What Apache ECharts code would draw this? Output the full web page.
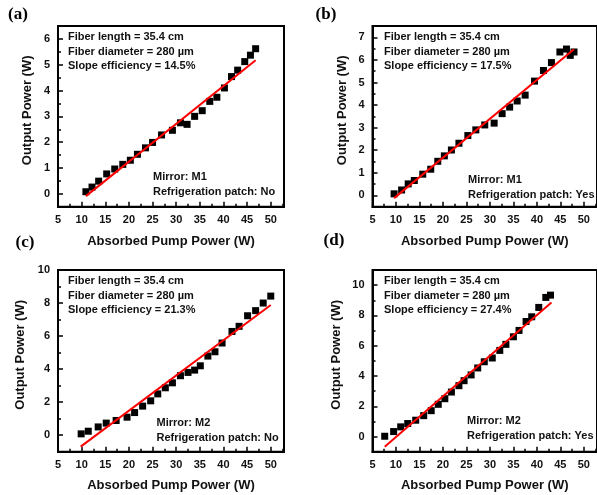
<!DOCTYPE html>
<html><head><meta charset="utf-8">
<script src="https://cdn.jsdelivr.net/npm/echarts@6/dist/echarts.min.js"></script>
<style>html,body{margin:0;padding:0;background:#fff}#c{width:597px;height:495px}</style>
</head><body><div id="c"></div>
<script>
// ---- data ----
const xTickValues = [5, 10, 15, 20, 25, 30, 35, 40, 45, 50];
const xMinorValues = [7.5, 12.5, 17.5, 22.5, 27.5, 32.5, 37.5, 42.5, 47.5, 52.5];

const aX = [10.9,12.2,13.6,15.3,17.0,18.7,20.3,21.8,23.5,25.0,26.9,29.2,30.9,32.3,33.9,35.5,37.1,38.6,40.2,41.7,43.0,44.5,45.7,46.8];
const aY = [0.08,0.26,0.49,0.77,0.96,1.14,1.30,1.53,1.78,1.99,2.28,2.46,2.75,2.69,3.00,3.22,3.58,3.74,4.10,4.54,4.79,5.12,5.37,5.62];
const aFitX = [10.9, 46.8];
const aFitY = [-0.09, 5.17];
const aYTicks = [0,1,2,3,4,5,6];
const aYMinor = [0.5,1.5,2.5,3.5,4.5,5.5];

const bX = [9.6,11.2,12.6,13.9,15.7,17.4,18.9,20.3,21.8,23.4,25.3,27.0,28.9,30.9,32.6,34.2,35.8,37.5,39.5,41.4,43.1,44.9,46.3,47.1,47.9];
const bY = [0.07,0.24,0.51,0.66,0.94,1.16,1.51,1.75,2.01,2.31,2.65,2.90,3.12,3.20,3.62,3.91,4.18,4.44,5.06,5.53,5.88,6.35,6.48,6.20,6.35];
const bFitX = [9.6, 47.9];
const bFitY = [-0.12, 6.47];
const bYTicks = [0,1,2,3,4,5,6,7];
const bYMinor = [0.5,1.5,2.5,3.5,4.5,5.5,6.5];

const cX = [9.9,11.4,13.5,15.2,17.3,19.6,21.2,22.9,24.6,26.1,27.7,29.2,30.9,32.5,33.9,35.1,36.7,38.2,39.7,41.8,43.3,45.1,46.8,48.4,50.0];
const cY = [0.08,0.24,0.50,0.73,0.89,1.09,1.37,1.76,2.08,2.50,2.87,3.17,3.60,3.80,3.94,4.20,4.79,5.05,5.58,6.28,6.59,7.23,7.54,8.00,8.42];
const cFitX = [9.8, 50.0];
const cFitY = [-0.69, 7.88];
const cYTicks = [0,2,4,6,8,10];
const cYMinor = [1,3,5,7,9];

const dX = [7.6,9.5,11.0,12.5,14.2,15.9,17.5,19.0,20.4,21.8,23.4,24.5,26.0,27.4,28.8,30.5,32.1,33.4,35.0,36.2,37.7,38.9,40.4,41.9,42.9];
const dY = [0.02,0.33,0.64,0.86,1.08,1.38,1.71,2.13,2.50,2.94,3.36,3.69,4.07,4.53,4.94,5.19,5.69,6.09,6.59,7.01,7.60,7.91,8.53,9.19,9.34];
const dFitX = [7.6, 43.1];
const dFitY = [-0.68, 8.85];
const dYTicks = [0,2,4,6,8,10];
const dYMinor = [1,3,5,7,9];

const panelLabels = ['(a)', '(b)', '(c)', '(d)'];
const fiberLines = ['Fiber length = 35.4 cm', 'Fiber diameter = 280 \u00b5m'];
const slopeTexts = ['Slope efficiency = 14.5%', 'Slope efficiency = 17.5%', 'Slope efficiency = 21.3%', 'Slope efficiency = 27.4%'];
const mirrorTexts = ['Mirror: M1', 'Mirror: M1', 'Mirror: M2', 'Mirror: M2'];
const patchTexts = ['Refrigeration patch: No', 'Refrigeration patch: Yes', 'Refrigeration patch: No', 'Refrigeration patch: Yes'];
const xTitle = 'Absorbed Pump Power (W)';
const yTitle = 'Output Power (W)';

// ---- layout ----
const SANS = '"Liberation Sans", Arial, sans-serif';
const SERIF = '"Liberation Serif", "Times New Roman", serif';
const TXT = '#111';
const panels = [
  {X: aX, Y: aY, fx: aFitX, fy: aFitY, yt: aYTicks, ym: aYMinor, ymin: -0.5, ymax: 6.5,
   grid: {left: 58, top: 26, width: 226, height: 180.7}, yGap: 24.5, xGap: 28,
   lab: [18, 15], info: [68, 37], mir: [153, 177]},
  {X: bX, Y: bY, fx: bFitX, fy: bFitY, yt: bYTicks, ym: bYMinor, ymin: -0.5, ymax: 7.5,
   grid: {left: 372.5, top: 26, width: 226, height: 180.7}, yGap: 23.5, xGap: 28,
   lab: [326, 15], info: [384, 37], mir: [468, 180]},
  {X: cX, Y: cY, fx: cFitX, fy: cFitY, yt: cYTicks, ym: cYMinor, ymin: -1, ymax: 10,
   grid: {left: 58, top: 270, width: 226, height: 181.7}, yGap: 31, xGap: 27,
   lab: [25, 243], info: [68, 281], mir: [156.5, 423]},
  {X: dX, Y: dY, fx: dFitX, fy: dFitY, yt: dYTicks, ym: dYMinor, ymin: -1, ymax: 11,
   grid: {left: 372.5, top: 270, width: 226, height: 181.7}, yGap: 29.5, xGap: 27,
   lab: [334, 241], info: [384, 281], mir: [467, 421]}
];
const XMIN = 5, XMAX = 52.8;

const grids = [], xAxes = [], yAxes = [], series = [], graphics = [];
const axisLineStyle = {color: '#000', width: 2};
panels.forEach((p, i) => {
  grids.push(Object.assign({show: true, borderColor: '#000', borderWidth: 2, backgroundColor: 'transparent'}, p.grid));
  xAxes.push({
    type: 'value', gridIndex: i, position: 'bottom', min: XMIN, max: XMAX,
    name: xTitle, nameLocation: 'middle', nameGap: p.xGap,
    nameTextStyle: {fontFamily: SANS, fontWeight: 'bold', fontSize: 13, color: TXT},
    axisLine: {show: true, onZero: false, lineStyle: axisLineStyle},
    axisTick: {show: true, inside: true, length: 5, lineStyle: {color: '#000', width: 1.5}, customValues: xTickValues},
    axisLabel: {show: true, margin: 8, fontFamily: SANS, fontWeight: 'bold', fontSize: 11, color: TXT, customValues: xTickValues},
    splitLine: {show: false}
  });
  xAxes.push({
    type: 'value', gridIndex: i, position: 'bottom', min: XMIN, max: XMAX,
    axisLine: {show: false, onZero: false},
    axisTick: {show: true, inside: true, length: 3, lineStyle: {color: '#000', width: 1.5}, customValues: xMinorValues},
    axisLabel: {show: false}, splitLine: {show: false}
  });
  yAxes.push({
    type: 'value', gridIndex: i, position: 'left', min: p.ymin, max: p.ymax,
    name: yTitle, nameLocation: 'middle', nameGap: p.yGap,
    nameTextStyle: {fontFamily: SANS, fontWeight: 'bold', fontSize: 13, color: TXT, padding: [0, 0, 0, 12]},
    axisLine: {show: true, onZero: false, lineStyle: axisLineStyle},
    axisTick: {show: true, inside: true, length: 5, lineStyle: {color: '#000', width: 1.5}, customValues: p.yt},
    axisLabel: {show: true, margin: 8, fontFamily: SANS, fontWeight: 'bold', fontSize: 11, color: TXT, customValues: p.yt},
    splitLine: {show: false}
  });
  yAxes.push({
    type: 'value', gridIndex: i, position: 'left', min: p.ymin, max: p.ymax,
    axisLine: {show: false, onZero: false},
    axisTick: {show: true, inside: true, length: 3, lineStyle: {color: '#000', width: 1.5}, customValues: p.ym},
    axisLabel: {show: false}, splitLine: {show: false}
  });
  series.push({
    type: 'scatter', xAxisIndex: 2 * i, yAxisIndex: 2 * i,
    data: p.X.map((x, k) => [x, p.Y[k]]),
    symbol: 'rect', symbolSize: 7, itemStyle: {color: '#000', opacity: 1}, z: 3, silent: true
  });
  series.push({
    type: 'line', xAxisIndex: 2 * i, yAxisIndex: 2 * i,
    data: p.fx.map((x, k) => [x, p.fy[k]]),
    symbol: 'none', lineStyle: {color: '#ff0000', width: 2}, z: 4, silent: true
  });
  graphics.push({type: 'text', x: p.lab[0], y: p.lab[1], style: {text: panelLabels[i], font: 'bold 17px ' + SERIF, fill: '#000', align: 'center', verticalAlign: 'middle'}});
  const infos = [fiberLines[0], fiberLines[1], slopeTexts[i]];
  infos.forEach((t, k) => graphics.push({type: 'text', x: p.info[0], y: p.info[1] + k * 14.5,
    style: {text: t, font: 'bold 11px ' + SANS, fill: TXT, align: 'left', verticalAlign: 'middle'}}));
  graphics.push({type: 'text', x: p.mir[0], y: p.mir[1], style: {text: mirrorTexts[i], font: 'bold 11px ' + SANS, fill: TXT, align: 'left', verticalAlign: 'middle'}});
  graphics.push({type: 'text', x: p.mir[0], y: p.mir[1] + 14.5, style: {text: patchTexts[i], font: 'bold 11px ' + SANS, fill: TXT, align: 'left', verticalAlign: 'middle'}});
});

const chart = echarts.init(document.getElementById('c'), null, {renderer: 'canvas'});
chart.setOption({
  animation: false,
  backgroundColor: '#fff',
  grid: grids, xAxis: xAxes, yAxis: yAxes, series: series, graphic: graphics
});
</script></body></html>
